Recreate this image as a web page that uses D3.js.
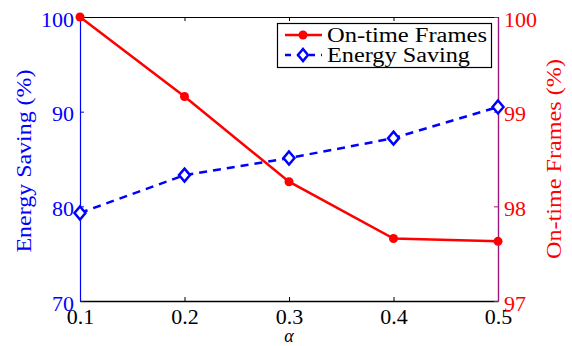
<!DOCTYPE html>
<html><head><meta charset="utf-8">
<script src="https://cdn.jsdelivr.net/npm/d3@7"></script>
<style>body{margin:0;background:#fff}svg{display:block}</style>
</head><body>
<script>
const alphas = [0.1, 0.2, 0.3, 0.4, 0.5];
const onTimeFrames = [100, 99.16, 98.26, 97.66, 97.63];
const energySaving = [79.3, 83.3, 85.1, 87.2, 90.5];
const xTicks = [0.1, 0.2, 0.3, 0.4, 0.5];
const leftTicks = [70, 80, 90, 100];
const rightTicks = [97, 98, 99, 100];

const FONT = "'Liberation Serif', 'Times New Roman', Times, 'DejaVu Serif', serif";
const W = 572, H = 346;
const m = {l: 80, r: 498, t: 17, b: 301};
const svg = d3.select("body").append("svg").attr("width", W).attr("height", H)
  .attr("font-family", FONT);
const x = d3.scaleLinear().domain([0.1, 0.5]).range([m.l, m.r]);
const yL = d3.scaleLinear().domain([70, 100]).range([m.b, m.t]);
const yR = d3.scaleLinear().domain([97, 100]).range([m.b, m.t]);
const blue = "#0000ff", red = "#ff0000", purple = "#9e1a7a";

// top & bottom axes
const bottomAxis = svg.append("g").attr("transform", `translate(0,${m.b})`)
  .call(d3.axisBottom(x).tickValues(xTicks).tickSizeInner(-4).tickSizeOuter(0).tickPadding(7).tickFormat(d3.format(".1f")));
bottomAxis.attr("font-family", FONT);
bottomAxis.select(".domain").attr("stroke", "#000").attr("stroke-width", 1.6);
bottomAxis.selectAll("text").attr("font-size", 22).attr("fill", "#000").attr("font-family", FONT);
const topAxis = svg.append("g").attr("transform", `translate(0,${m.t})`)
  .call(d3.axisTop(x).tickValues(xTicks).tickSizeInner(-4).tickSizeOuter(0).tickFormat(""));
topAxis.select(".domain").attr("stroke", "#000").attr("stroke-width", 1.2);

// left axis
const leftAxis = svg.append("g").attr("transform", `translate(${m.l},0)`)
  .call(d3.axisLeft(yL).tickValues(leftTicks).tickSizeInner(-4).tickSizeOuter(0).tickPadding(6).tickFormat(d3.format("d")));
leftAxis.attr("font-family", FONT);
leftAxis.select(".domain").attr("stroke", blue).attr("stroke-width", 1.2);
leftAxis.selectAll(".tick line").attr("stroke", blue);
leftAxis.selectAll("text").attr("font-size", 22).attr("fill", blue).attr("dy", "0.42em").attr("font-family", FONT);

// right axis
const rightAxis = svg.append("g").attr("transform", `translate(${m.r},0)`)
  .call(d3.axisRight(yR).tickValues(rightTicks).tickSizeInner(-4).tickSizeOuter(0).tickPadding(6).tickFormat(d3.format("d")));
rightAxis.attr("font-family", FONT);
rightAxis.select(".domain").attr("stroke", purple).attr("stroke-width", 1.4);
rightAxis.selectAll(".tick line").attr("stroke", purple);
rightAxis.selectAll("text").attr("font-size", 22).attr("fill", red).attr("dy", "0.42em").attr("font-family", FONT);

// axis titles
svg.append("text").attr("transform", `translate(31,161) rotate(-90)`).attr("text-anchor", "middle")
  .attr("font-size", 20).attr("fill", blue).attr("textLength", 183).attr("lengthAdjust", "spacingAndGlyphs")
  .text("Energy Saving (%)");
svg.append("text").attr("transform", `translate(561,159) rotate(-90)`).attr("text-anchor", "middle")
  .attr("font-size", 20).attr("fill", red).attr("textLength", 200).attr("lengthAdjust", "spacingAndGlyphs")
  .text("On-time Frames (%)");
svg.append("text").attr("x", 289).attr("y", 342).attr("text-anchor", "middle")
  .attr("font-size", 18).attr("font-style", "italic").attr("fill", "#000").text("α");

// energy series
const lineE = d3.line().x((d, i) => x(alphas[i])).y(d => yL(d));
svg.append("path").datum(energySaving).attr("d", lineE).attr("fill", "none")
  .attr("stroke", blue).attr("stroke-width", 2.5).attr("stroke-dasharray", "8,6");
const diamond = (cx, cy, w, h) => `M${cx},${cy - h}L${cx + w},${cy}L${cx},${cy + h}L${cx - w},${cy}Z`;
svg.selectAll(".dia").data(energySaving).enter().append("path")
  .attr("d", (d, i) => diamond(x(alphas[i]), yL(d), 5.5, 6.5))
  .attr("fill", "#fff").attr("stroke", blue).attr("stroke-width", 2.5);

// on-time series
const lineO = d3.line().x((d, i) => x(alphas[i])).y(d => yR(d));
svg.append("path").datum(onTimeFrames).attr("d", lineO).attr("fill", "none")
  .attr("stroke", red).attr("stroke-width", 2.5);
svg.selectAll(".dot").data(onTimeFrames).enter().append("circle")
  .attr("cx", (d, i) => x(alphas[i])).attr("cy", d => yR(d)).attr("r", 4.5).attr("fill", red);

// legend
const lg = svg.append("g");
lg.append("rect").attr("x", 277.5).attr("y", 23.5).attr("width", 214).attr("height", 44)
  .attr("fill", "#fff").attr("stroke", "#000").attr("stroke-width", 1.2);
lg.append("line").attr("x1", 285).attr("x2", 322).attr("y1", 35).attr("y2", 35).attr("stroke", red).attr("stroke-width", 2.5);
lg.append("circle").attr("cx", 303).attr("cy", 35).attr("r", 4.5).attr("fill", red);
lg.append("line").attr("x1", 285).attr("x2", 322).attr("y1", 55).attr("y2", 55).attr("stroke", blue).attr("stroke-width", 2.5).attr("stroke-dasharray", "6,6");
lg.append("path").attr("d", diamond(303, 55, 5, 6)).attr("fill", "#fff").attr("stroke", blue).attr("stroke-width", 2.5);
lg.append("text").attr("x", 327).attr("y", 42).attr("font-size", 20).attr("fill", "#000")
  .attr("textLength", 160).attr("lengthAdjust", "spacingAndGlyphs").text("On-time Frames");
lg.append("text").attr("x", 327).attr("y", 62).attr("font-size", 20).attr("fill", "#000")
  .attr("textLength", 143).attr("lengthAdjust", "spacingAndGlyphs").text("Energy Saving");
</script>
</body></html>
